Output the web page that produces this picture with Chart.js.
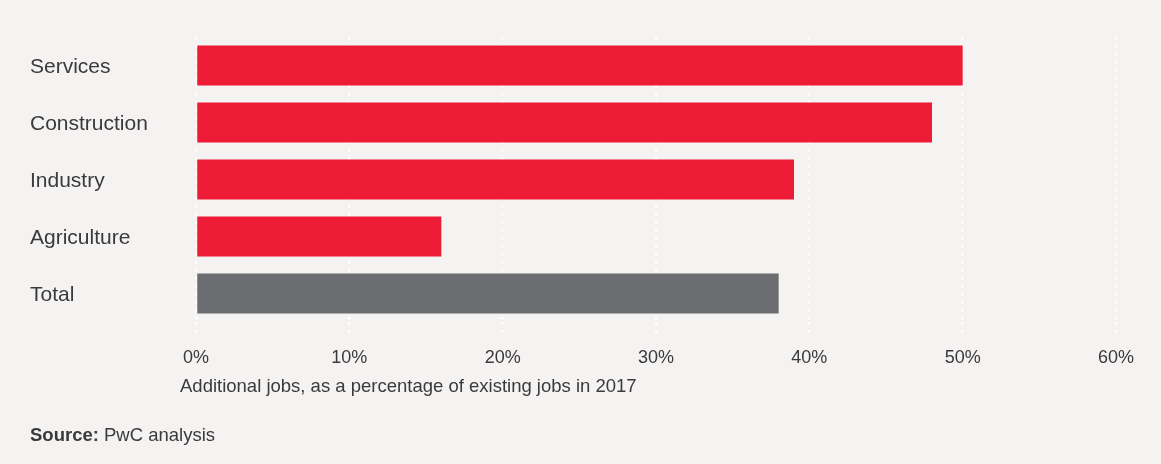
<!DOCTYPE html>
<html>
<head>
<meta charset="utf-8">
<script src="https://cdn.jsdelivr.net/npm/chart.js@4"></script>
<style>
  html, body { margin: 0; padding: 0; background: #f5f3f1; }
  #wrap { width: 1161px; height: 464px; position: relative; }
</style>
</head>
<body>
<div id="wrap"><canvas id="c" width="1161" height="464"></canvas></div>
<script>
const categories = ["Services", "Construction", "Industry", "Agriculture", "Total"];
const values = [50, 48, 39, 16, 38];
const barColors = ["#ed1b35", "#ed1b35", "#ed1b35", "#ed1b35", "#6c6d70"];
const xTicks = [0, 10, 20, 30, 40, 50, 60];
const xTitle = "Additional jobs, as a percentage of existing jobs in 2017";
const sourceBold = "Source:";
const sourceText = " PwC analysis";

const textColor = "#3a3a3c";
const fontFamily = "'Liberation Sans', Arial, Helvetica, sans-serif";

const extraText = {
  id: 'extraText',
  afterDraw(chart) {
    const ctx = chart.ctx;
    const area = chart.chartArea;
    ctx.save();
    ctx.fillStyle = textColor;
    ctx.textBaseline = 'middle';
    ctx.textAlign = 'left';
    ctx.font = "18.5px " + fontFamily;
    ctx.fillText(xTitle, area.left - 16, 387);
    ctx.font = "bold 18.5px " + fontFamily;
    ctx.fillText(sourceBold, 30, 436);
    const w = ctx.measureText(sourceBold).width;
    ctx.font = "18.5px " + fontFamily;
    ctx.fillText(sourceText, 30 + w, 436);
    ctx.restore();
  }
};

new Chart(document.getElementById('c'), {
  type: 'bar',
  data: {
    labels: categories,
    datasets: [{
      data: values,
      backgroundColor: barColors,
      borderWidth: 0,
      categoryPercentage: 0.7,
      barPercentage: 1.0
    }]
  },
  options: {
    indexAxis: 'y',
    responsive: false,
    animation: false,
    layout: { padding: { left: 30, right: 45, top: 37, bottom: 0 } },
    plugins: {
      legend: { display: false },
      tooltip: { enabled: false }
    },
    scales: {
      x: {
        min: 0,
        max: 60,
        afterBuildTicks(scale) { scale.ticks = xTicks.map(v => ({ value: v })); },
        afterFit(scale) { scale.height = 142; },
        grid: {
          color: '#ffffff',
          lineWidth: 2.5,
          drawTicks: true,
          tickLength: 12,
          tickColor: '#ffffff',
          tickWidth: 2.5,
          tickBorderDash: [2.5, 5.5],
          tickBorderDashOffset: 0
        },
        border: { display: false, dash: [2.5, 5.5] },
        ticks: {
          color: textColor,
          font: { family: fontFamily, size: 18 },
          padding: 13,
          callback: v => v + '%'
        }
      },
      y: {
        afterFit(scale) { scale.width = 166; },
        grid: { display: false },
        border: { display: false },
        ticks: {
          color: textColor,
          crossAlign: 'far',
          labelOffset: 2,
          font: { family: fontFamily, size: 21 }
        }
      }
    }
  },
  plugins: [extraText]
});
</script>
</body>
</html>
